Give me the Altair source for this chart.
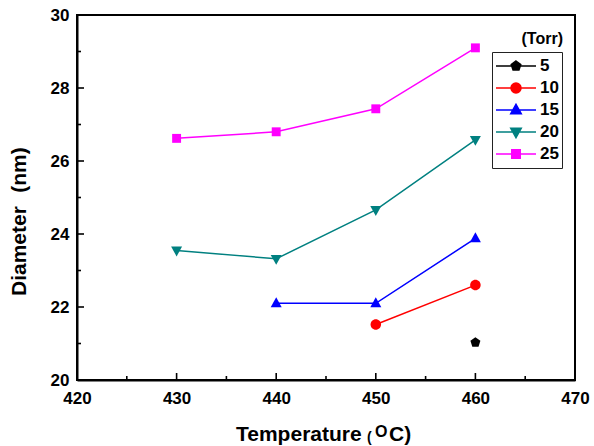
import math
import altair as alt
import pandas as pd

FONT = "Liberation Sans"

# Growth temperature (deg C) and measured mean diameter (nm) per chamber pressure (Torr)
temperature = [430, 440, 450, 460]
pressures = ["5", "10", "15", "20", "25"]
diam_5 = [None, None, None, 21.03]
diam_10 = [None, None, 21.52, 22.60]
diam_15 = [None, 22.10, 22.10, 23.88]
diam_20 = [23.55, 23.32, 24.66, 26.58]
diam_25 = [26.62, 26.80, 27.43, 29.10]
colors = ["#000000", "#ff0000", "#0000ff", "#008080", "#ff00ff"]

# axis tick positions
x_major = [420, 430, 440, 450, 460, 470]
x_minor = [425, 435, 445, 455, 465]
y_major = [20, 22, 24, 26, 28, 30]
y_minor = [21, 23, 25, 27, 29]

rows = []
for p, series in zip(pressures, [diam_5, diam_10, diam_15, diam_20, diam_25]):
    for t, d in zip(temperature, series):
        if d is not None:
            rows.append({"T": t, "D": d, "P": p})
df = pd.DataFrame(rows)


# --- marker outlines as SVG paths in unit coordinates ---
def poly(pts, k=1.0):
    return "M" + "L".join(f"{x * k:.3f},{y * k:.3f}" for x, y in pts) + "Z"


def circle(r):
    return f"M{r:.3f},0A{r:.3f},{r:.3f},0,1,1,{-r:.3f},0A{r:.3f},{r:.3f},0,1,1,{r:.3f},0Z"


pent = [(math.sin(2 * math.pi * i / 5), -math.cos(2 * math.pi * i / 5)) for i in range(5)]
tri_up = [(0, -1.15), (1.05, 0.75), (-1.05, 0.75)]
tri_dn = [(0, 1.15), (1.05, -0.75), (-1.05, -0.75)]
square = [(-0.85, -0.85), (0.85, -0.85), (0.85, 0.85), (-0.85, 0.85)]


def marker_paths(k):
    return [poly(pent, k), circle(k), poly(tri_up, k), poly(tri_dn, k), poly(square, k)]


point_shapes = marker_paths(1.0)
legend_shapes = ["M-1,0H1" + m for m in marker_paths(0.25)]

xs = alt.Scale(domain=[420, 470], nice=False, zero=False)
ys = alt.Scale(domain=[20, 30], nice=False, zero=False)
cs = alt.Scale(domain=pressures, range=colors)

x_enc = alt.X(
    "T:Q", scale=xs,
    axis=alt.Axis(values=x_major, title=None, format="d", labelPadding=10, labelFlush=False),
)
y_enc = alt.Y(
    "D:Q", scale=ys,
    axis=alt.Axis(values=y_major, title=None, format="d", labelPadding=8, labelFlush=False),
)

base = alt.Chart(df)

lines = base.mark_line(strokeWidth=1.5).encode(
    x=x_enc, y=y_enc,
    color=alt.Color("P:N", scale=cs, legend=None),
    detail="P:N",
)

points = base.mark_point(filled=True, size=110, opacity=1, strokeWidth=1).encode(
    x=alt.X("T:Q", scale=xs), y=alt.Y("D:Q", scale=ys),
    color=alt.Color("P:N", scale=cs, legend=None),
    shape=alt.Shape("P:N", scale=alt.Scale(domain=pressures, range=point_shapes), legend=None),
)

leg = alt.Legend(
    title=None, orient="none", legendX=415, legendY=37, padding=3, rowPadding=0,
    symbolSize=1600, symbolStrokeWidth=1.5, clipHeight=22, symbolOpacity=1,
    labelFont=FONT, labelFontSize=17, labelFontWeight="bold", labelColor="black",
    labelOffset=3, strokeColor="#222222",
)

# key: line-with-marker symbols per pressure
legend_layer = base.transform_filter("false").mark_point(filled=False, opacity=1).encode(
    x=alt.X("T:Q", scale=xs), y=alt.Y("D:Q", scale=ys),
    fill=alt.Fill("P:N", scale=alt.Scale(domain=pressures, range=colors), legend=leg),
    stroke=alt.Stroke("P:N", scale=alt.Scale(domain=pressures, range=colors), legend=leg),
    shape=alt.Shape("P:N", scale=alt.Scale(domain=pressures, range=legend_shapes), legend=leg),
)

# inward tick marks
y_tick_df = pd.DataFrame({"D": y_major[1:-1] + y_minor,
                          "len": [7] * (len(y_major) - 2) + [4] * len(y_minor)})
x_tick_df = pd.DataFrame({"T": x_major[1:-1] + x_minor,
                          "len": [7] * (len(x_major) - 2) + [4] * len(x_minor)})

y_ticks_major = alt.Chart(y_tick_df).transform_filter("datum.len == 7").mark_rule(
    color="black", strokeWidth=1.6).encode(
    y=alt.Y("D:Q", scale=ys), x=alt.value(0), x2=alt.value(7))
y_ticks_minor = alt.Chart(y_tick_df).transform_filter("datum.len == 4").mark_rule(
    color="black", strokeWidth=1.6).encode(
    y=alt.Y("D:Q", scale=ys), x=alt.value(0), x2=alt.value(4))
x_ticks_major = alt.Chart(x_tick_df).transform_filter("datum.len == 7").mark_rule(
    color="black", strokeWidth=1.6).encode(
    x=alt.X("T:Q", scale=xs), y=alt.value(365), y2=alt.value(358))
x_ticks_minor = alt.Chart(x_tick_df).transform_filter("datum.len == 4").mark_rule(
    color="black", strokeWidth=1.6).encode(
    x=alt.X("T:Q", scale=xs), y=alt.value(365), y2=alt.value(361))

one = pd.DataFrame({"k": [0]})


def label(text, x, y, size, align="left", baseline="alphabetic", angle=0):
    kw = dict(text=text, font=FONT, fontSize=size, fontWeight="bold", color="black",
              align=align, baseline=baseline)
    if angle:
        kw["angle"] = angle
    return alt.Chart(one).mark_text(**kw).encode(x=alt.value(x), y=alt.value(y))


titles = [
    label("Temperature", 159, 426, 21),
    label("(", 290, 427, 14),
    label("O", 298, 422, 16),
    label("C)", 312, 426, 21),
    label("Diameter", -57, 281, 21, baseline="middle", angle=270),
    label("(nm)", -57, 155, 21, align="center", baseline="middle", angle=270),
    label("(Torr)", 486, 24, 16, align="right", baseline="middle"),
]

chart = alt.layer(
    lines, points, y_ticks_major, y_ticks_minor, x_ticks_major, x_ticks_minor,
    legend_layer, *titles,
).resolve_scale(
    shape="independent", fill="independent", stroke="independent"
).properties(
    width=498, height=365,
    autosize=alt.AutoSizeParams(type="none"),
    padding={"left": 77, "top": 15, "right": 19, "bottom": 66},
    background="white",
).configure_view(
    stroke="black", strokeWidth=2,
).configure_axis(
    domainColor="black", domainWidth=2, ticks=False, grid=False,
    labelFont=FONT, labelFontSize=17, labelFontWeight="bold", labelColor="black",
)

chart.save("out.html", embed_options={"renderer": "svg", "actions": False})
